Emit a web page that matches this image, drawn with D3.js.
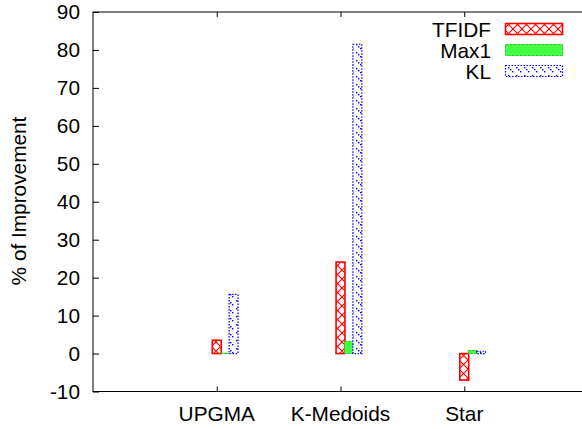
<!DOCTYPE html>
<html>
<head>
<meta charset="utf-8">
<script src="https://cdn.jsdelivr.net/npm/d3@7"></script>
<style>
  body { margin: 0; background: #fff; }
  svg text { font-family: "Liberation Sans", Arial, sans-serif; fill: #000; }
</style>
</head>
<body>
<svg id="chart" width="582" height="429"></svg>
<script>
// Data
const categories = ["UPGMA", "K-Medoids", "Star"];
const seriesNames = ["TFIDF", "Max1", "KL"];
const tfidf = [3.5, 24.1, -7.0];
const max1 = [0.1, 3.2, 0.8];
const kl = [15.6, 81.5, 0.6];
const yTicks = [-10, 0, 10, 20, 30, 40, 50, 60, 70, 80, 90];

const series = [tfidf, max1, kl];

// Plot box
const plotLeft = 93, plotRight = 588, plotTop = 12, plotBottom = 391.5;
const fontSize = 20.8;

let svg = d3.select("#chart");

// Scales: categories sit on 0,1,2 of a -1..3 axis
let x = d3.scaleLinear().domain([-1, 3]).range([plotLeft, plotRight]);
let y = d3.scaleLinear().domain([-10, 90]).range([plotBottom, plotTop]);

// Fill patterns
let defs = svg.append("defs");

let hatch = defs.append("pattern")
  .attr("id", "hatch")
  .attr("patternUnits", "userSpaceOnUse")
  .attr("width", 9).attr("height", 9);
hatch.append("rect").attr("width", 9).attr("height", 9).attr("fill", "#fff");
hatch.append("path")
  .attr("d", "M0,0 L9,9 M9,0 L0,9")
  .attr("stroke", "#ff0000").attr("stroke-width", 1.1).attr("fill", "none");

let dots = defs.append("pattern")
  .attr("id", "dots")
  .attr("patternUnits", "userSpaceOnUse")
  .attr("width", 8).attr("height", 8);
dots.append("rect").attr("width", 8).attr("height", 8).attr("fill", "#fff");
[[0, 0], [4, 4], [6, 6]].forEach(p => {
  dots.append("rect")
    .attr("x", p[0]).attr("y", p[1])
    .attr("width", 1.4).attr("height", 1.4)
    .attr("fill", "#0000ff");
});

const styles = [
  { fill: "url(#hatch)", stroke: "#ff0000", width: 1.6, dash: null },
  { fill: "#44ff44", stroke: "#22cc22", width: 1, dash: "3,1" },
  { fill: "url(#dots)", stroke: "#0000ff", width: 1.2, dash: "1.5,1.5" }
];

// Bars: width and offset in axis units
const boxWidth = 0.072;
const offset = 0.068;

series.forEach((vals, s) => {
  svg.append("g")
    .selectAll("rect")
    .data(vals)
    .enter()
    .append("rect")
      .attr("x", (d, i) => x(i + s * offset - boxWidth / 2))
      .attr("width", x(boxWidth) - x(0))
      .attr("y", d => y(Math.max(0, d)))
      .attr("height", d => Math.abs(y(d) - y(0)))
      .attr("fill", styles[s].fill)
      .attr("stroke", styles[s].stroke)
      .attr("stroke-width", styles[s].width)
      .attr("stroke-dasharray", styles[s].dash);
});

// Axes with inward ticks
let yAxis = d3.axisRight(y).tickValues(yTicks).tickSize(6).tickFormat("");
svg.append("g").attr("transform", `translate(${plotLeft},0)`).call(yAxis);

let xBottom = d3.axisTop(x).tickValues([0, 1, 2]).tickSize(5).tickFormat("");
svg.append("g").attr("transform", `translate(0,${plotBottom})`).call(xBottom);

let xTop = d3.axisBottom(x).tickValues([0, 1, 2]).tickSize(5).tickFormat("");
svg.append("g").attr("transform", `translate(0,${plotTop})`).call(xTop);

svg.selectAll(".domain").remove();
svg.selectAll(".tick line").attr("stroke", "#000");

// Border
svg.append("rect")
  .attr("x", plotLeft).attr("y", plotTop)
  .attr("width", plotRight - plotLeft).attr("height", plotBottom - plotTop)
  .attr("fill", "none").attr("stroke", "#000").attr("stroke-width", 1);

// Tick labels
svg.append("g")
  .selectAll("text")
  .data(yTicks)
  .enter()
  .append("text")
    .attr("x", 80)
    .attr("y", d => y(d))
    .attr("dy", "0.36em")
    .attr("text-anchor", "end")
    .attr("font-size", fontSize)
    .text(d => d);

svg.append("g")
  .selectAll("text")
  .data(categories)
  .enter()
  .append("text")
    .attr("x", (d, i) => x(i))
    .attr("y", 421)
    .attr("text-anchor", "middle")
    .attr("font-size", fontSize)
    .text(d => d);

// Y axis title
svg.append("text")
  .attr("transform", "translate(26,201) rotate(-90)")
  .attr("text-anchor", "middle")
  .attr("font-size", fontSize)
  .text("% of Improvement");

// Legend
let legend = svg.append("g")
  .selectAll("g")
  .data(seriesNames)
  .enter()
  .append("g")
    .attr("transform", (d, i) => `translate(0,${29 + i * 21})`);

legend.append("text")
  .attr("x", 491)
  .attr("dy", "0.36em")
  .attr("text-anchor", "end")
  .attr("font-size", fontSize)
  .text(d => d);

legend.append("rect")
  .attr("x", 505.5).attr("y", -5.5)
  .attr("width", 57).attr("height", 11)
  .attr("fill", (d, i) => styles[i].fill)
  .attr("stroke", (d, i) => styles[i].stroke)
  .attr("stroke-width", (d, i) => styles[i].width)
  .attr("stroke-dasharray", (d, i) => styles[i].dash);
</script>
</body>
</html>
